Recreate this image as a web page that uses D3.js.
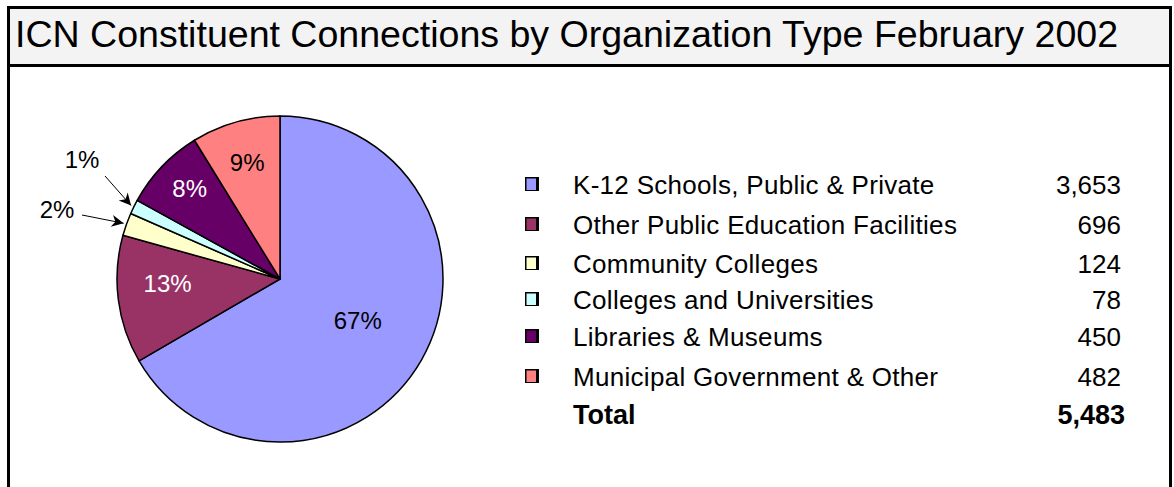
<!DOCTYPE html>
<html>
<head>
<meta charset="utf-8">
<script src="https://cdn.jsdelivr.net/npm/d3@7"></script>
<style>
  body { margin: 0; background: #fff; }
  text { font-family: "Liberation Sans", Arial, sans-serif; }
</style>
</head>
<body>
<div id="chart"></div>
<script>
// data
var categories = ["K-12 Schools, Public & Private", "Other Public Education Facilities",
  "Community Colleges", "Colleges and Universities", "Libraries & Museums",
  "Municipal Government & Other"];
var counts = [3653, 696, 124, 78, 450, 482];
var pctLabels = ["67%", "13%", "2%", "1%", "8%", "9%"];
var colors = ["#9999ff", "#993366", "#ffffcc", "#ccffff", "#660066", "#ff8080"];
var totalLabel = "Total";
var totalValue = "5,483";
var title = "ICN Constituent Connections by Organization Type February 2002";

var W = 1174, H = 487;
var svg = d3.select("#chart").append("svg")
  .attr("width", W).attr("height", H);

// frame + title bar
svg.append("rect")
  .attr("x", 8.5).attr("y", 7.5).attr("width", 1162).attr("height", H + 10)
  .attr("fill", "#fff").attr("stroke", "#000").attr("stroke-width", 3);
svg.append("rect")
  .attr("x", 8.5).attr("y", 7.5).attr("width", 1162).attr("height", 58)
  .attr("fill", "#f3f3f3").attr("stroke", "#000").attr("stroke-width", 3);
svg.append("text")
  .attr("x", 15).attr("y", 47)
  .attr("font-size", 36)
  .attr("textLength", 1103).attr("lengthAdjust", "spacingAndGlyphs")
  .text(title);

// pie
var cx = 280, cy = 279, r = 163;
var pie = d3.pie().sort(null).value(d => d)(counts);
var arc = d3.arc().innerRadius(0).outerRadius(r);
var g = svg.append("g").attr("transform", "translate(" + cx + "," + cy + ")");

g.selectAll("path.slice")
  .data(pie)
  .enter().append("path")
  .attr("class", "slice")
  .attr("d", arc)
  .attr("fill", (d, i) => colors[i])
  .attr("stroke", "#000")
  .attr("stroke-width", 1.5)
  .attr("stroke-linejoin", "round");

// inside labels (radius factor, angle nudge in degrees)
var labelR = [0.54, 0.69, 0, 0, 0.785, 0.74];
var labelNudge = [-2, 5, 0, 0, 1.5, 0];
var labelColor = ["#000", "#fff", "#000", "#000", "#fff", "#000"];
pie.forEach(function(d, i) {
  if (labelR[i] === 0) return;
  var a = (d.startAngle + d.endAngle) / 2 + labelNudge[i] * Math.PI / 180;
  g.append("text")
    .attr("x", Math.sin(a) * r * labelR[i])
    .attr("y", -Math.cos(a) * r * labelR[i])
    .attr("text-anchor", "middle")
    .attr("dy", "0.35em")
    .attr("font-size", 24)
    .attr("fill", labelColor[i])
    .text(pctLabels[i]);
});

// outside labels with arrows for the thin slices
svg.append("defs").append("marker")
  .attr("id", "arrow").attr("viewBox", "0 0 10 10")
  .attr("refX", 10).attr("refY", 5)
  .attr("markerWidth", 17).attr("markerHeight", 12)
  .attr("markerUnits", "userSpaceOnUse")
  .attr("orient", "auto")
  .append("path").attr("d", "M0,0 L10,5 L0,10 L3,5 Z").attr("fill", "#000");

var outside = [
  { i: 3, tx: 82, ty: 160, sx: 105, sy: 176 },
  { i: 2, tx: 57, ty: 210, sx: 82, sy: 215 }
];
outside.forEach(function(o) {
  var d = pie[o.i];
  var a = (d.startAngle + d.endAngle) / 2;
  var ex = cx + Math.sin(a) * (r + 3), ey = cy - Math.cos(a) * (r + 3);
  svg.append("line")
    .attr("x1", o.sx).attr("y1", o.sy).attr("x2", ex).attr("y2", ey)
    .attr("stroke", "#000").attr("stroke-width", 1)
    .attr("marker-end", "url(#arrow)");
  svg.append("text")
    .attr("x", o.tx).attr("y", o.ty)
    .attr("text-anchor", "middle").attr("dy", "0.35em")
    .attr("font-size", 24)
    .text(pctLabels[o.i]);
});

// legend
var rowY = [185, 225, 264, 300, 337, 377, 415];
var fmt = d3.format(",");
var leg = svg.append("g");
categories.forEach(function(c, i) {
  var yy = rowY[i];
  leg.append("rect")
    .attr("x", 525).attr("y", yy - 8).attr("width", 14).attr("height", 14)
    .attr("fill", "#000");
  leg.append("rect")
    .attr("x", 526.5).attr("y", yy - 6.5).attr("width", 9.5).attr("height", 11.5)
    .attr("fill", colors[i]);
  leg.append("text")
    .attr("x", 573).attr("y", yy).attr("dy", "0.35em")
    .attr("font-size", 26).attr("letter-spacing", 0.3)
    .text(c);
  leg.append("text")
    .attr("x", 1121).attr("y", yy).attr("dy", "0.35em")
    .attr("text-anchor", "end")
    .attr("font-size", 26)
    .text(fmt(counts[i]));
});
leg.append("text")
  .attr("x", 573).attr("y", rowY[6]).attr("dy", "0.35em")
  .attr("font-size", 27).attr("font-weight", "bold")
  .text(totalLabel);
leg.append("text")
  .attr("x", 1125).attr("y", rowY[6]).attr("dy", "0.35em")
  .attr("text-anchor", "end")
  .attr("font-size", 27).attr("font-weight", "bold")
  .text(totalValue);
</script>
</body>
</html>
